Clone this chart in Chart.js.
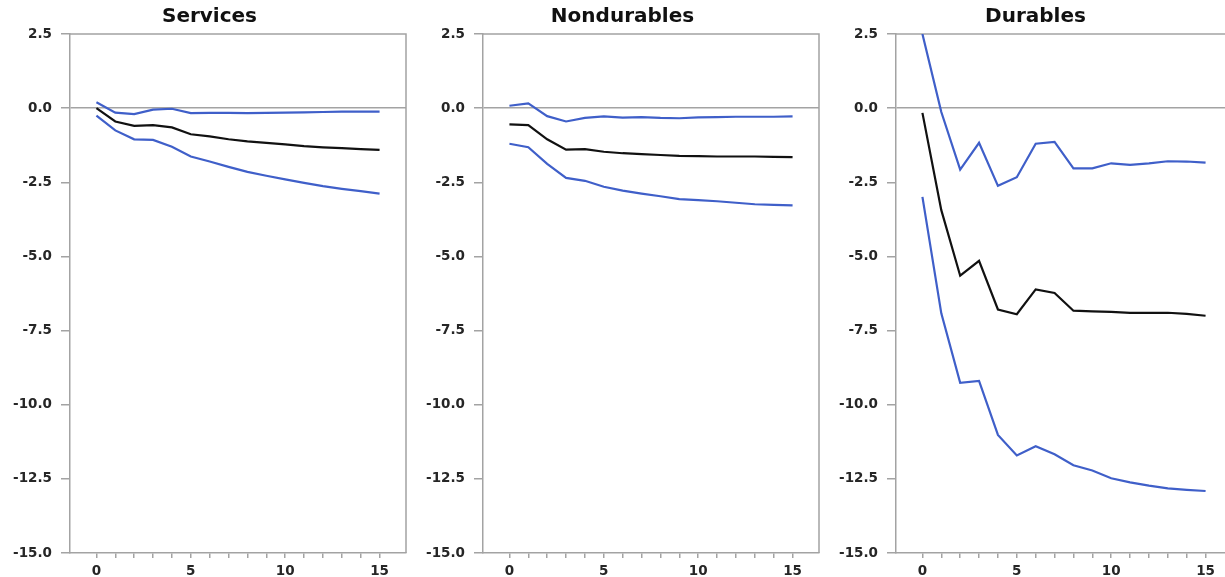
<!DOCTYPE html>
<html>
<head>
<meta charset="utf-8">
<script src="https://cdn.jsdelivr.net/npm/chart.js@4"></script>
<style>
  html, body { margin: 0; padding: 0; background: #fff; overflow: hidden; }
  body { width: 1225px; height: 577px; position: relative; }
  .panel { position: absolute; top: 0; width: 419px; height: 577px; }
  .panel canvas { display: block; }
</style>
</head>
<body>
<div class="panel" style="left:0px"><canvas id="c0" width="419" height="577" style="width:419px;height:577px"></canvas></div>
<div class="panel" style="left:413px"><canvas id="c1" width="419" height="577" style="width:419px;height:577px"></canvas></div>
<div class="panel" style="left:826px"><canvas id="c2" width="419" height="577" style="width:419px;height:577px"></canvas></div>
<script>
// Horizons (x categories)
const horizons = [0,1,2,3,4,5,6,7,8,9,10,11,12,13,14,15];
const xMajorLabels = [0,5,10,15];
const yTicks = [2.5, 0, -2.5, -5, -7.5, -10, -12.5, -15];
const titles = ["Services", "Nondurables", "Durables"];

// Services
const servicesMid   = [0.0, -0.45, -0.60, -0.57, -0.65, -0.88, -0.95, -1.05, -1.12, -1.17, -1.22, -1.28, -1.32, -1.35, -1.38, -1.41];
const servicesUpper = [0.20, -0.15, -0.20, -0.05, -0.02, -0.17, -0.16, -0.16, -0.17, -0.16, -0.15, -0.14, -0.13, -0.12, -0.12, -0.12];
const servicesLower = [-0.25, -0.75, -1.05, -1.07, -1.30, -1.63, -1.80, -1.98, -2.15, -2.28, -2.40, -2.52, -2.63, -2.72, -2.80, -2.88];

// Nondurables
const nondurMid   = [-0.55, -0.57, -1.05, -1.40, -1.38, -1.47, -1.52, -1.55, -1.58, -1.61, -1.62, -1.63, -1.63, -1.63, -1.64, -1.65];
const nondurUpper = [0.08, 0.16, -0.27, -0.45, -0.33, -0.28, -0.32, -0.30, -0.33, -0.34, -0.31, -0.30, -0.29, -0.29, -0.29, -0.28];
const nondurLower = [-1.20, -1.32, -1.88, -2.35, -2.45, -2.65, -2.78, -2.88, -2.97, -3.07, -3.10, -3.14, -3.19, -3.24, -3.26, -3.28];

// Durables
const durMid   = [-0.16, -3.44, -5.65, -5.15, -6.79, -6.95, -6.11, -6.23, -6.83, -6.85, -6.87, -6.90, -6.90, -6.90, -6.94, -7.00];
const durUpper = [2.50, -0.13, -2.07, -1.17, -2.62, -2.33, -1.20, -1.14, -2.03, -2.03, -1.86, -1.91, -1.86, -1.79, -1.80, -1.84];
const durLower = [-2.99, -6.92, -9.26, -9.20, -11.02, -11.71, -11.40, -11.67, -12.04, -12.22, -12.48, -12.62, -12.73, -12.82, -12.87, -12.91];

const panels = [
  [servicesMid, servicesUpper, servicesLower],
  [nondurMid, nondurUpper, nondurLower],
  [durMid, durUpper, durLower]
];

const BLUE = '#3f5fc9';
const BLACK = '#111111';
const AXIS = '#a3a3a3';
const LABEL = '#262626';
const FONT = '"DejaVu Sans", sans-serif';

const framePlugin = {
  id: 'frame',
  beforeDatasetsDraw(chart, args, opts) {
    const a = chart.chartArea, ctx = chart.ctx;
    ctx.save();
    ctx.strokeStyle = AXIS;
    ctx.lineWidth = 1.5;
    ctx.beginPath();
    ctx.moveTo(a.left, a.top);
    ctx.lineTo(a.right, a.top);
    if (opts.right) ctx.lineTo(a.right, a.bottom);
    ctx.stroke();
    ctx.restore();
  }
};

function toXY(arr) { return horizons.map((h, i) => ({x: h, y: arr[i]})); }

panels.forEach((series, idx) => {
  const [mid, up, lo] = series;
  new Chart(document.getElementById('c' + idx), {
    type: 'line',
    data: {
      datasets: [
        { data: toXY(up), borderColor: BLUE, borderWidth: 2.2, pointRadius: 0, tension: 0 },
        { data: toXY(lo), borderColor: BLUE, borderWidth: 2.2, pointRadius: 0, tension: 0 },
        { data: toXY(mid), borderColor: BLACK, borderWidth: 2.2, pointRadius: 0, tension: 0 }
      ]
    },
    options: {
      responsive: false,
      maintainAspectRatio: false,
      animation: false,
      events: [],
      layout: { padding: { left: 13, right: 13, top: 0, bottom: 0 } },
      plugins: {
        legend: { display: false },
        tooltip: { enabled: false },
        frame: { right: idx < 2 },
        title: {
          display: true,
          text: titles[idx],
          color: '#111',
          font: { family: FONT, size: 20, weight: 'bold', lineHeight: 1.2 },
          padding: { top: 4.5, bottom: 5.5 }
        }
      },
      scales: {
        x: {
          type: 'linear',
          min: -1.4,
          max: 16.4,
          afterBuildTicks: s => { s.ticks = horizons.map(v => ({ value: v })); },
          afterFit: s => { s.height = 24; },
          border: { display: true, color: AXIS, width: 1.5 },
          grid: { drawOnChartArea: false, color: AXIS, tickColor: AXIS, tickLength: 5, lineWidth: 1.5 },
          ticks: {
            autoSkip: false,
            maxRotation: 0,
            padding: 5,
            color: LABEL,
            font: { family: FONT, size: 13.5, weight: 'bold' },
            callback: v => xMajorLabels.includes(v) ? String(v) : ''
          }
        },
        y: {
          type: 'linear',
          min: -15,
          max: 2.5,
          afterBuildTicks: s => { s.ticks = yTicks.map(v => ({ value: v })); },
          afterFit: s => { s.width = 57; },
          border: { display: true, color: AXIS, width: 1.5 },
          grid: {
            drawOnChartArea: true,
            color: c => (c.tick && c.tick.value === 0) ? AXIS : 'rgba(0,0,0,0)',
            tickColor: AXIS,
            tickLength: 9,
            lineWidth: 1.5
          },
          ticks: {
            padding: 9,
            color: LABEL,
            font: { family: FONT, size: 13.5, weight: 'bold' },
            callback: v => v.toFixed(1)
          }
        }
      }
    },
    plugins: [framePlugin]
  });
});
</script>
</body>
</html>
